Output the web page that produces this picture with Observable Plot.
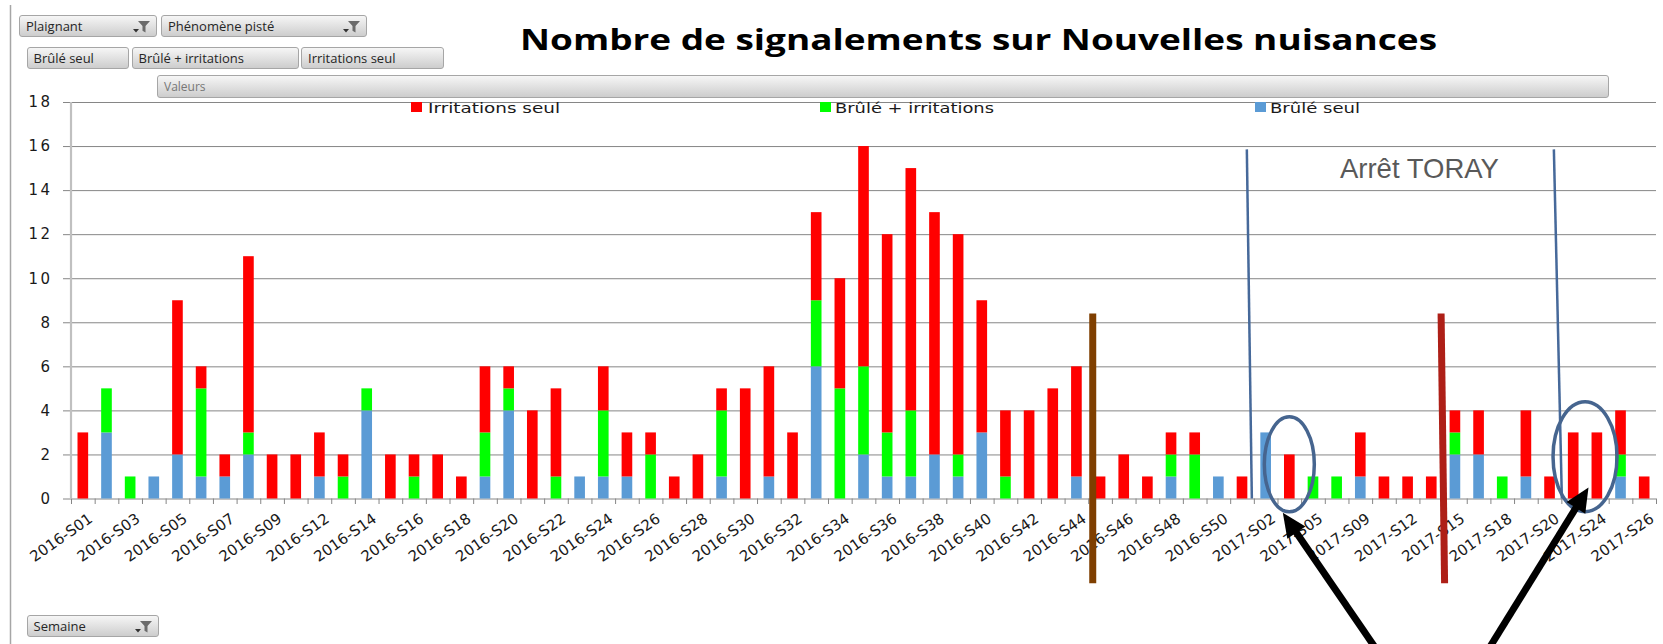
<!DOCTYPE html>
<html><head><meta charset="utf-8">
<script src="https://cdn.jsdelivr.net/npm/d3@7"></script>
<script src="https://cdn.jsdelivr.net/npm/@observablehq/plot@0.6"></script>
<style>
body{margin:0;background:#fff;}
#wrap{position:relative;width:1663px;height:644px;overflow:hidden;background:#fff;}
#wrap > svg{position:absolute;left:0;top:0;}
.btn{position:absolute;box-sizing:border-box;border:1px solid #a6a6a6;border-radius:3px;background:linear-gradient(#f6f6f6,#cdcdcd);font:13px "Open Sans",sans-serif;color:#262626;padding-left:6px;white-space:nowrap;display:flex;align-items:center;}
.btn svg{position:absolute;right:4px;top:3px;}
</style></head><body><div id="wrap"></div><script>
const weeks = ["2016-S01","2016-S02","2016-S03","2016-S04","2016-S05","2016-S06","2016-S07","2016-S08","2016-S09","2016-S10",
"2016-S12","2016-S13","2016-S14","2016-S15","2016-S16","2016-S17","2016-S18","2016-S19","2016-S20","2016-S21",
"2016-S22","2016-S23","2016-S24","2016-S25","2016-S26","2016-S27","2016-S28","2016-S29","2016-S30","2016-S31",
"2016-S32","2016-S33","2016-S34","2016-S35","2016-S36","2016-S37","2016-S38","2016-S39","2016-S40","2016-S41",
"2016-S42","2016-S43","2016-S44","2016-S45","2016-S46","2016-S47","2016-S48","2016-S49","2016-S50","2016-S52",
"2017-S02","2017-S03","2017-S05","2017-S07","2017-S09","2017-S10","2017-S12","2017-S14","2017-S15","2017-S17",
"2017-S18","2017-S19","2017-S20","2017-S22","2017-S24","2017-S25","2017-S26"];
const bruleSeul =        [0,3,0,1,2,1,1,2,0,0, 1,0,4,0,0,0,0,1,4,0, 0,1,1,1,0,0,0,1,0,1, 0,6,0,2,1,1,2,1,3,0, 0,0,1,0,0,0,1,0,1,0, 3,0,0,0,1,0,0,0,2,2, 0,1,0,0,0,1,0];
const bruleIrritations = [0,2,1,0,0,4,0,1,0,0, 0,1,1,0,1,0,0,2,1,0, 1,0,3,0,2,0,0,3,0,0, 0,3,5,4,2,3,0,1,0,1, 0,0,0,0,0,0,1,2,0,0, 0,0,1,1,0,0,0,0,1,0, 1,0,0,0,0,1,0];
const irritationsSeul =  [3,0,0,0,7,1,1,8,2,2, 2,1,0,2,1,2,1,3,1,4, 4,0,2,2,1,1,2,1,5,5, 3,4,5,10,9,11,11,10,6,3, 4,5,5,1,2,1,1,1,0,1, 0,2,0,0,2,1,1,1,1,2, 0,3,1,3,3,2,1];
const seriesNames = ["Brûlé seul","Brûlé + irritations","Irritations seul"];
const seriesColors = ["#5B9BD5","#00FF00","#FF0000"];
const legendOrder = ["Irritations seul","Brûlé + irritations","Brûlé seul"];
const yTicks = [0,2,4,6,8,10,12,14,16,18];
const xTickLabels = weeks.filter((d,i)=>i%2===0);
const titleText = "Nombre de signalements sur Nouvelles nuisances";
const annotationText = "Arrêt TORAY";

const seriesValues = [bruleSeul, bruleIrritations, irritationsSeul];
const table = [];
weeks.forEach((w,i)=>seriesNames.forEach((s,j)=>table.push({week:w, series:s, value:seriesValues[j][i]})));

const W = 1663, H = 644, ML = 71, MR = 7, MT = 102, MB = 145.5;
const step = (W-ML-MR)/weeks.length;

const plot = Plot.plot({
  width: W, height: H,
  marginTop: MT, marginLeft: ML, marginRight: MR, marginBottom: MB,
  x: {domain: weeks, paddingInner: 0.55, paddingOuter: 0.275, axis: null},
  y: {domain: [0,18], axis: null},
  color: {domain: seriesNames, range: seriesColors},
  style: {fontFamily: "DejaVu Sans", background: "transparent", overflow: "visible"},
  marks: [
    Plot.ruleY(yTicks, {y: d=>d, stroke: "#868686", strokeWidth: 1, insetLeft: -8}),
    Plot.barY(table, {x: "week", y: "value", fill: "series", z: "series"}),
    Plot.ruleX(weeks, {x: d=>d, dx: -step/2, y1: 0, y2: -0.25, stroke: "#868686"}),
    Plot.ruleX([weeks[weeks.length-1]], {x: d=>d, dx: step/2, y1: 0, y2: -0.25, stroke: "#868686"}),
    Plot.text(xTickLabels, {x: d=>d, y: 0, text: d=>d, textAnchor: "end", lineAnchor: "bottom",
      fontSize: 15, fill: "#1a1a1a", ariaLabel: "x tick labels"}),
    Plot.axisY({ticks: yTicks, tickSize: 0, tickPadding: 19, fontSize: 15, fill: "#1a1a1a", label: null})
  ]
});

document.getElementById("wrap").appendChild(plot);
const svg = d3.select(plot);

const xs = plot.scale("x"), ys = plot.scale("y");
const bw = xs.bandwidth;
const stp = bw / 0.45;
const cx = w => xs.apply(w) + bw/2;
const edge = w => xs.apply(w) - 0.275*stp;
const Y = v => ys.apply(v);

// rotated tick labels, anchored just below each labelled bar
svg.selectAll("text").each(function(){
  const t = this.textContent;
  if (/^\d{4}-S\d\d$/.test(t)) {
    const ax = cx(t) + 5, ay = Y(0) + 22;
    this.removeAttribute("x"); this.removeAttribute("y");
    this.setAttribute("transform", `translate(${ax},${ay}) rotate(-35)`);
  } else if (/^\d{1,2}$/.test(t)) this.style.letterSpacing = "2.5px";
});

// left border line
svg.append("line").attr("x1",10.5).attr("x2",10.5).attr("y1",5).attr("y2",H).attr("stroke","#a6a6a6").attr("stroke-width",1.5);
// y-axis line
svg.append("line").attr("x1",ML).attr("x2",ML).attr("y1",Y(18)).attr("y2",Y(0)).attr("stroke","#c0c0c0").attr("stroke-width",2.2);

// title
svg.append("text").attr("x",520).attr("y",50).attr("text-anchor","start").attr("textLength",917).attr("lengthAdjust","spacingAndGlyphs")
  .attr("font-family","'Open Sans', sans-serif").attr("font-weight","bold").attr("font-size",29).attr("fill","#000").text(titleText);

// legend
const legPos = {"Irritations seul":[411,428,132],"Brûlé + irritations":[820,835,159],"Brûlé seul":[1255,1270,90]};
legendOrder.forEach(s=>{
  const [sx,tx,tl] = legPos[s];
  svg.append("rect").attr("x",sx).attr("y",102).attr("width",11).attr("height",10).attr("fill",seriesColors[seriesNames.indexOf(s)]);
  svg.append("text").attr("x",tx).attr("y",112.5).attr("text-anchor","start").attr("textLength",tl).attr("lengthAdjust","spacingAndGlyphs")
    .attr("font-family","DejaVu Sans").attr("font-size",14.5).attr("fill","#1a1a1a").text(s);
});

// vertical markers
const wlines = [
  {x1: edge("2016-S45")+4.5, x2: edge("2016-S45")+4.5, c:"#7F3F00"},
  {x1: edge("2017-S15")-2, x2: edge("2017-S15")+1.5, c:"#AE1F17"}
];
wlines.forEach(l=>svg.append("line").attr("x1",l.x1).attr("x2",l.x2).attr("y1",Y(8.4)).attr("y2",Y(-3.85)).attr("stroke",l.c).attr("stroke-width",7));
const blines = [
  {x1: edge("2017-S02")-7, x2: edge("2017-S02")-2},
  {x1: edge("2017-S22")-7.5, x2: edge("2017-S22")+0.5}
];
blines.forEach(l=>svg.append("line").attr("x1",l.x1).attr("x2",l.x2).attr("y1",Y(15.85)).attr("y2",Y(0)).attr("stroke","#46699A").attr("stroke-width",2.5));

svg.append("text").attr("x",edge("2017-S14")).attr("y",Y(14.55)).attr("text-anchor","middle")
  .attr("font-family","'Liberation Sans', Arial, sans-serif").attr("font-size",27.5).attr("fill","#595959").text(annotationText);

// ellipses
svg.append("ellipse").attr("cx",cx("2017-S03")).attr("cy",Y(1.55)).attr("rx",25).attr("ry",47.5).attr("fill","none").attr("stroke","#46658F").attr("stroke-width",3.5);
svg.append("ellipse").attr("cx",edge("2017-S24")).attr("cy",Y(1.9)).attr("rx",32).attr("ry",55).attr("fill","none").attr("stroke","#46658F").attr("stroke-width",3.5);

// arrows
function arrow(tx,ty,sx,sy){
  const dx = tx-sx, dy = ty-sy, L = Math.hypot(dx,dy), ux = dx/L, uy = dy/L, px = -uy, py = ux;
  const hl = 24, hw = 11;
  const bx = tx-ux*hl, by = ty-uy*hl;
  svg.append("line").attr("x1",sx).attr("y1",sy).attr("x2",bx+ux*2).attr("y2",by+uy*2).attr("stroke","#000").attr("stroke-width",7);
  svg.append("polygon").attr("points",`${tx},${ty} ${bx+px*hw},${by+py*hw} ${bx-px*hw},${by-py*hw}`).attr("fill","#000");
}
arrow(cx("2017-S03")-6.5, Y(-0.65), cx("2017-S03")+87.5, 650);
arrow(edge("2017-S24")+3.5, Y(0.5), edge("2017-S24")-97, 650);

// pivot field buttons
const funnel = '<svg width="22" height="16"><path d="M3 10h6l-3 3.5z" fill="#333"/><path d="M8 2h12l-4.5 5v6.5l-3-1.8V7z" fill="#6b6b6b"/></svg>';
const buttons = [
  ["Plaignant",19,15,138,22,true],
  ["Phénomène pisté",161,15,206,22,true],
  ["Brûlé seul",26.5,47,102,22,false],
  ["Brûlé + irritations",131.5,47,167,22,false],
  ["Irritations seul",301,47,143,22,false],
  ["Valeurs",157,75,1452,23,false],
  ["Semaine",26.5,615,132,22,true]
];
const wrap = document.getElementById("wrap");
buttons.forEach(([t,x,y,w,h,f])=>{
  const d = document.createElement("div");
  d.className = "btn";
  d.style.left = x+"px"; d.style.top = y+"px"; d.style.width = w+"px"; d.style.height = h+"px";
  d.innerHTML = `<span${t==="Valeurs"?' style="color:#777;font-size:12px"':''}>${t}</span>` + (f?funnel:"");
  wrap.appendChild(d);
});
</script></body></html>
